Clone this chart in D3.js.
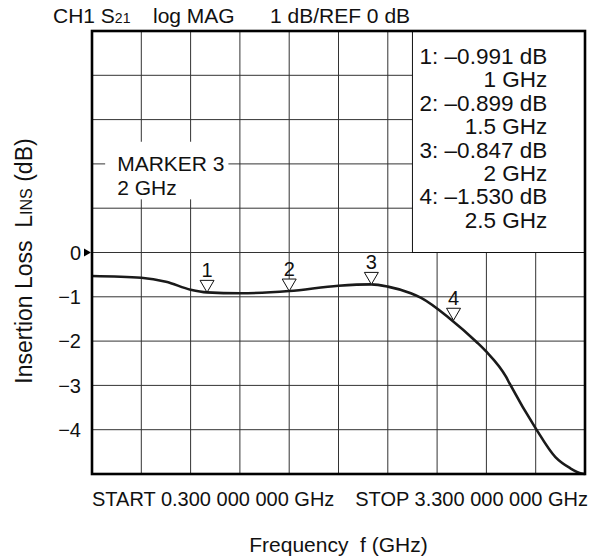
<!DOCTYPE html>
<html>
<head>
<meta charset="utf-8">
<script src="https://cdn.jsdelivr.net/npm/d3@7"></script>
<style>
  body { margin: 0; background: #fff; }
  text { font-family: "Liberation Sans", Arial, sans-serif; fill: #111; }
</style>
</head>
<body>
<svg id="chart" width="590" height="559"></svg>
<script>
// trace: frequency (GHz) and insertion loss (dB)
const freq = [0.30, 0.60, 0.75, 0.90, 1.00, 1.20, 1.50, 1.80, 2.00, 2.10, 2.24, 2.30, 2.48, 2.64, 2.70, 2.82, 2.84, 3.00, 3.12, 3.21, 3.28, 3.30];
const loss = [-0.53, -0.57, -0.66, -0.84, -0.90, -0.92, -0.87, -0.75, -0.72, -0.77, -0.92, -1.02, -1.50, -2.02, -2.24, -2.81, -2.95, -3.97, -4.62, -4.87, -4.99, -5.00];

// markers
const markerNames = ["1", "2", "3", "4"];
const markerFreq = [1.0, 1.5, 2.0, 2.5];
const markerLoss = [-0.90, -0.87, -0.72, -1.53];

const legendLines = ["1: \u20130.991 dB", "1 GHz", "2: \u20130.899 dB", "1.5 GHz",
                     "3: \u20130.847 dB", "2 GHz", "4: \u20131.530 dB", "2.5 GHz"];
const yTickValues = [0, -1, -2, -3, -4];
const yTickLabels = ["0", "\u22121", "\u22122", "\u22123", "\u22124"];

const svg = d3.select("#chart");
const margin = { left: 92, top: 31, right: 5, bottom: 85 };
const width = 590 - margin.left - margin.right;
const height = 559 - margin.top - margin.bottom;

const x = d3.scaleLinear().domain([0.3, 3.3]).range([0, width]);
const y = d3.scaleLinear().domain([-5, 5]).range([height, 0]);

const g = svg.append("g").attr("transform", `translate(${margin.left},${margin.top})`);

// grid (10 x 10 divisions)
const xGrid = d3.range(11).map(i => 0.3 + i * 0.3);
const yGrid = d3.range(-5, 6);
g.append("g").selectAll("line.v").data(xGrid).join("line")
    .attr("x1", d => x(d)).attr("x2", d => x(d))
    .attr("y1", 0).attr("y2", height)
    .attr("stroke", "#333").attr("stroke-width", 1);
g.append("g").selectAll("line.h").data(yGrid).join("line")
    .attr("y1", d => y(d)).attr("y2", d => y(d))
    .attr("x1", 0).attr("x2", width)
    .attr("stroke", "#333").attr("stroke-width", 1);

// marker 3 label box (covers grid, no outline)
g.append("rect")
    .attr("x", x(0.38)).attr("y", y(2.5))
    .attr("width", x(1.13) - x(0.38)).attr("height", y(1.2) - y(2.5))
    .attr("fill", "#fff");
g.append("text").attr("x", x(0.453)).attr("y", y(1.84))
    .attr("font-size", 21).text("MARKER 3");
g.append("text").attr("x", x(0.453)).attr("y", y(1.3))
    .attr("font-size", 21).text("2 GHz");

// legend box in top-right corner
const lx = x(2.25);
g.append("rect")
    .attr("x", lx).attr("y", 0)
    .attr("width", width - lx).attr("height", y(0))
    .attr("fill", "#fff").attr("stroke", "#111").attr("stroke-width", 1);
g.append("g").selectAll("text").data(legendLines).join("text")
    .attr("x", x(3.07))
    .attr("y", (d, i) => 33 + i * 23.4)
    .attr("text-anchor", "end")
    .attr("font-size", 22.5)
    .text(d => d);

// trace
const line = d3.line()
    .x((d, i) => x(freq[i]))
    .y(d => y(d))
    .curve(d3.curveMonotoneX);
g.append("path").datum(loss)
    .attr("d", line)
    .attr("fill", "none")
    .attr("stroke", "#1a1a1a")
    .attr("stroke-width", 2.6);

// marker triangles
const mk = g.append("g").selectAll("g").data(markerNames).join("g")
    .attr("transform", (d, i) => `translate(${x(markerFreq[i])},${y(markerLoss[i])})`);
mk.append("path")
    .attr("d", "M0,0 L-7,-12 L7,-12 Z")
    .attr("fill", "#fff").attr("stroke", "#111").attr("stroke-width", 1);
mk.append("text")
    .attr("y", -15).attr("text-anchor", "middle")
    .attr("font-size", 20)
    .text(d => d);

// border
g.append("rect")
    .attr("width", width).attr("height", height)
    .attr("fill", "none").attr("stroke", "#000").attr("stroke-width", 2.6);

// y ticks
g.append("g").selectAll("text").data(yTickValues).join("text")
    .attr("x", -11)
    .attr("y", d => y(d))
    .attr("dy", "0.36em")
    .attr("text-anchor", "end")
    .attr("font-size", 20)
    .text((d, i) => yTickLabels[i]);
// reference arrow at 0 dB
g.append("path")
    .attr("d", `M-8,${y(0) - 4} L-1,${y(0)} L-8,${y(0) + 4} Z`)
    .attr("fill", "#000");

// title
const title = svg.append("text").attr("y", 23).attr("font-size", 21);
title.append("tspan").attr("x", 53).text("CH1 S");
title.append("tspan").attr("font-size", 14).text("21");
svg.append("text").attr("x", 153).attr("y", 23).attr("font-size", 21).text("log MAG");
svg.append("text").attr("x", 270).attr("y", 23).attr("font-size", 21).text("1 dB/REF 0 dB");

// sweep range
svg.append("text").attr("x", margin.left).attr("y", 506).attr("font-size", 20)
    .text("START 0.300 000 000 GHz");
svg.append("text").attr("x", 588).attr("y", 506).attr("font-size", 20)
    .attr("text-anchor", "end")
    .text("STOP 3.300 000 000 GHz");

// axis titles
svg.append("text")
    .attr("x", margin.left + width / 2).attr("y", 552)
    .attr("text-anchor", "middle").attr("font-size", 21)
    .attr("xml:space", "preserve")
    .text("Frequency  f (GHz)");

const yl = svg.append("text")
    .attr("transform", `translate(32,261) rotate(-90)`)
    .attr("text-anchor", "middle").attr("font-size", 23)
    .attr("xml:space", "preserve");
yl.append("tspan").text("Insertion Loss  L");
yl.append("tspan").attr("font-size", 16).text("INS");
yl.append("tspan").text(" (dB)");
</script>
</body>
</html>
